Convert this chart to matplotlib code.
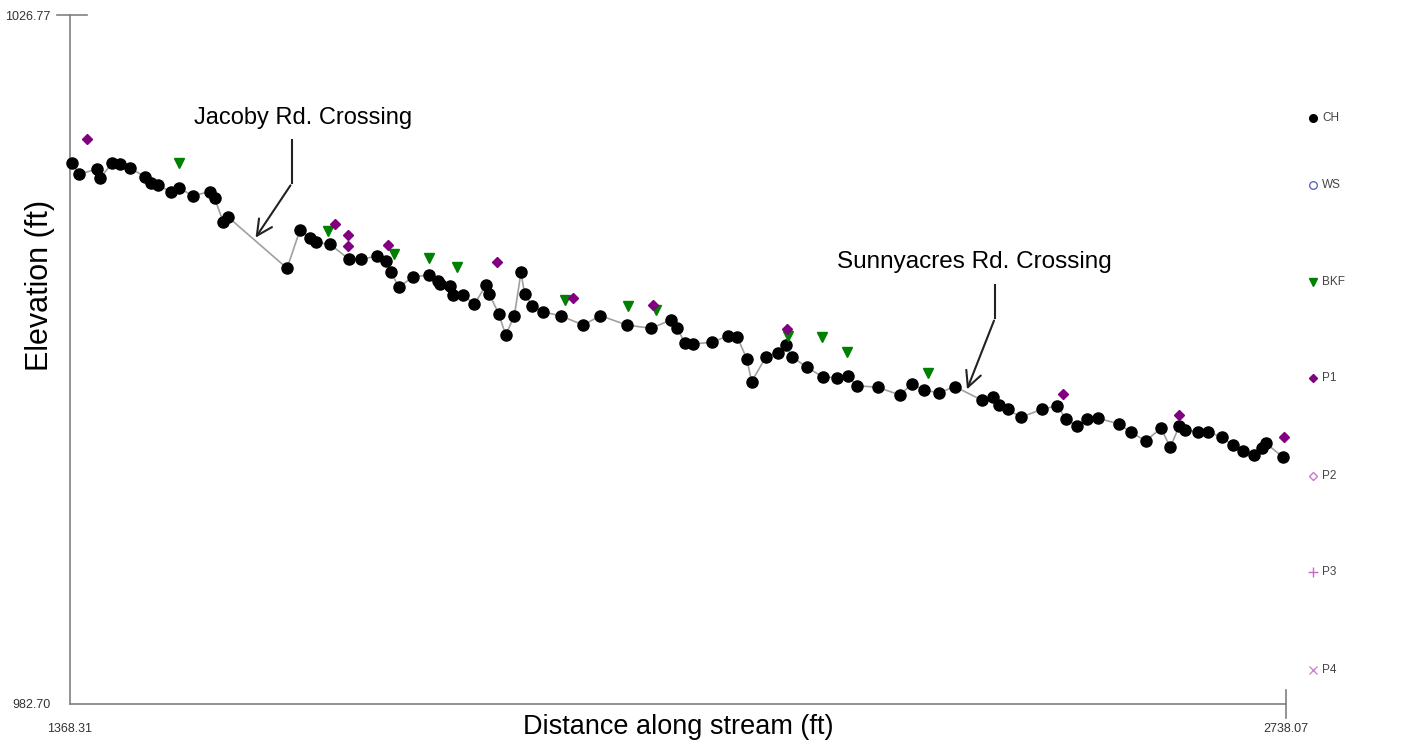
import numpy as np
import matplotlib
matplotlib.use('Agg')
import matplotlib.pyplot as plt
from matplotlib.lines import Line2D

plt.rcParams['font.family'] = ['Liberation Sans', 'DejaVu Sans']

# axis range
x_min, x_max = 1368.31, 2738.07
y_min, y_max = 982.70, 1026.77

# thalweg (CH) survey points
ch_x = [1370.6, 1378.8, 1398.4, 1402.1, 1415.6, 1424.6, 1436.2, 1453.1, 1459.9, 1467.4,
        1481.7, 1490.8, 1506.5, 1526.0, 1531.3, 1541.0, 1546.3, 1612.8, 1627.4, 1638.7,
        1645.4, 1661.2, 1682.9, 1696.1, 1714.5, 1724.3, 1729.6, 1738.9, 1755.0, 1773.0,
        1782.8, 1785.1, 1796.4, 1799.4, 1810.7, 1823.7, 1837.3, 1840.6, 1851.2, 1859.1,
        1868.8, 1876.3, 1880.5, 1889.1, 1900.8, 1921.4, 1946.5, 1965.7, 1995.7, 2022.8,
        2045.0, 2052.4, 2061.1, 2070.4, 2091.8, 2109.2, 2120.0, 2130.6, 2136.2, 2152.3,
        2166.2, 2174.5, 2182.0, 2198.5, 2216.2, 2232.0, 2244.4, 2254.5, 2278.1, 2303.3,
        2316.4, 2330.0, 2346.9, 2365.2, 2395.3, 2408.4, 2415.1, 2424.9, 2439.2, 2463.2,
        2480.5, 2490.3, 2503.0, 2514.3, 2526.6, 2550.3, 2563.1, 2580.0, 2597.3, 2607.7,
        2617.9, 2624.3, 2639.3, 2650.6, 2666.0, 2678.0, 2690.0, 2702.4, 2710.7, 2715.5,
        2735.0]
ch_y = [1017.32, 1016.58, 1016.92, 1016.33, 1017.28, 1017.26, 1016.96, 1016.43, 1016.00, 1015.90,
        1015.47, 1015.72, 1015.21, 1015.47, 1015.05, 1013.51, 1013.85, 1010.57, 1013.02, 1012.53,
        1012.23, 1012.10, 1011.14, 1011.14, 1011.36, 1011.04, 1010.31, 1009.37, 1010.03, 1010.14,
        1009.76, 1009.55, 1009.44, 1008.84, 1008.88, 1008.27, 1009.52, 1008.92, 1007.66, 1006.30,
        1007.52, 1010.31, 1008.91, 1008.18, 1007.79, 1007.52, 1006.94, 1007.54, 1006.94, 1006.73,
        1007.26, 1006.73, 1005.77, 1005.73, 1005.84, 1006.24, 1006.16, 1004.79, 1003.32, 1004.91,
        1005.17, 1005.64, 1004.88, 1004.24, 1003.62, 1003.57, 1003.68, 1003.06, 1002.96, 1002.46,
        1003.17, 1002.78, 1002.61, 1003.00, 1002.14, 1002.36, 1001.82, 1001.55, 1001.04, 1001.55,
        1001.78, 1000.91, 1000.48, 1000.93, 1000.97, 1000.61, 1000.08, 999.54, 1000.33, 999.12,
        1000.48, 1000.23, 1000.12, 1000.10, 999.76, 999.25, 998.90, 998.61, 999.05, 999.37,
        998.48]

# bankfull points
bkf_x = [1490.8, 1658.6, 1733.6, 1773.0, 1803.9, 1925.9, 1996.5, 2028.4, 2176.8, 2215.1, 2243.9, 2335.1]
bkf_y = [1017.28, 1012.95, 1011.50, 1011.25, 1010.65, 1008.54, 1008.14, 1007.90, 1006.24, 1006.16, 1005.20, 1003.89]

# P1 points
p1_x = [1387.5, 1666.5, 1681.1, 1681.1, 1726.9, 1849.0, 1935.3, 2024.7, 2175.6, 2487.2, 2617.2, 2735.8]
p1_y = [1018.84, 1013.38, 1012.70, 1012.01, 1012.06, 1010.99, 1008.69, 1008.22, 1006.67, 1002.53, 1001.20, 999.76]

legend_labels = ['CH', 'WS', 'BKF', 'P1', 'P2', 'P3', 'P4']

W, H = 1416, 740
fig = plt.figure(figsize=(W / 100, H / 100), dpi=100)
ax = fig.add_axes([70 / W, 36 / H, 1216 / W, 689 / H])

ax.plot(ch_x, ch_y, color='#a0a0a0', lw=1.2, zorder=2)
ax.plot(ch_x, ch_y, 'o', color='black', ms=8, zorder=3, clip_on=False)
ax.plot(bkf_x, bkf_y, 'v', color='#008000', ms=7.5, zorder=4)
ax.plot(p1_x, p1_y, 'D', color='#800080', ms=5, zorder=4, clip_on=False)

ax.set_xlim(x_min, x_max)
ax.set_ylim(y_min, y_max)

for s in ['top', 'right']:
    ax.spines[s].set_visible(False)
for s in ['left', 'bottom']:
    ax.spines[s].set_color('#808080')
    ax.spines[s].set_linewidth(1.2)

ax.set_xticks([x_min, x_max])
ax.set_xticklabels(['%.2f' % x_min, '%.2f' % x_max])
ax.set_yticks([y_min, y_max])
ax.set_yticklabels(['%.2f' % y_min, '%.2f' % y_max])
ax.tick_params(axis='both', which='major', length=0, labelsize=9, labelcolor='#333333', pad=14)

# end tick marks crossing the axes (top of y axis, right end of x axis)
fig.add_artist(Line2D([57 / W, 87 / W], [1 - 15 / H, 1 - 15 / H], transform=fig.transFigure,
                      color='#808080', lw=1.2))
fig.add_artist(Line2D([1286 / W, 1286 / W], [1 - 690 / H, 1 - 718 / H], transform=fig.transFigure,
                      color='#808080', lw=1.2))

ax.set_xlabel('Distance along stream (ft)', fontsize=19.5)
ax.xaxis.set_label_coords(0.5, -0.0335)
ax.xaxis.label.set_va('center')
fig.text(40 / W, 1 - 285 / H, 'Elevation (ft)', fontsize=22, rotation=90, ha='center', va='center')

# road crossing callouts
arrow_kw = dict(arrowstyle='->', color='#222222', lw=1.5, mutation_scale=28)
ax.plot([1618.4, 1618.4], [1018.77, 1016.02], color='#222222', lw=1.5)
ax.annotate('', xy=(1575.6, 1012.38), xytext=(1618.4, 1016.02), arrowprops=arrow_kw)
ax.text(1630.8, 1020.15, 'Jacoby Rd. Crossing', fontsize=17, ha='center', va='center')

ax.plot([2410.3, 2410.3], [1009.50, 1007.39], color='#222222', lw=1.5)
ax.annotate('', xy=(2377.6, 1002.66), xytext=(2410.3, 1007.39), arrowprops=arrow_kw)
ax.text(2386.6, 1011.0, 'Sunnyacres Rd. Crossing', fontsize=17.5, ha='center', va='center')

# legend on the right
leg_handles = [
    Line2D([], [], ls='none', marker='o', color='black', ms=5.5),
    Line2D([], [], ls='none', marker='o', mfc='none', mec='#6666bb', ms=5.5),
    Line2D([], [], ls='none', marker='v', color='#008000', ms=5.5),
    Line2D([], [], ls='none', marker='D', color='#800080', ms=4.5),
    Line2D([], [], ls='none', marker='D', mfc='none', mec='#cc77cc', ms=4.5),
    Line2D([], [], ls='none', marker='+', color='#cc66cc', ms=6.5),
    Line2D([], [], ls='none', marker='x', color='#cc88cc', ms=5.5),
]
leg_y = [118, 185, 282, 378, 476, 572, 670]
for h, lab, yy in zip(leg_handles, legend_labels, leg_y):
    fy = 1 - yy / H
    mk = Line2D([1313 / W], [fy], transform=fig.transFigure, ls='none',
                marker=h.get_marker(), mfc=h.get_markerfacecolor(), mec=h.get_markeredgecolor(),
                ms=h.get_markersize())
    fig.add_artist(mk)
    fig.text(1322 / W, fy, lab, fontsize=8.5, color='#444444', va='center', ha='left')

fig.savefig('out.png', dpi=100)
